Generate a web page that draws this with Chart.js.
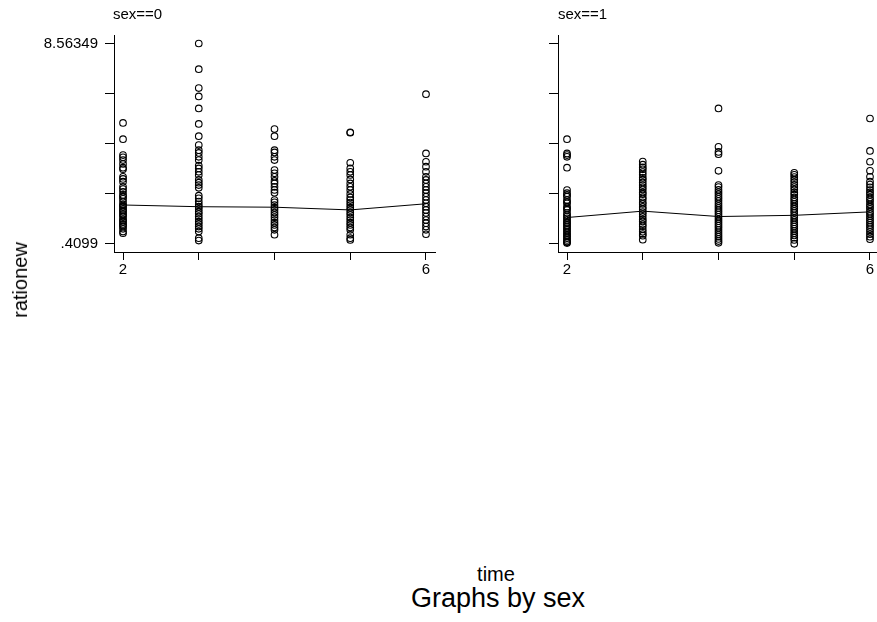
<!DOCTYPE html>
<html>
<head>
<meta charset="utf-8">
<script src="https://cdn.jsdelivr.net/npm/chart.js@4.4.1/dist/chart.umd.min.js"></script>
<style>
  html, body { margin: 0; padding: 0; background: #fff; }
  #wrap { position: relative; width: 877px; height: 622px; overflow: hidden; background: #fff; }
  canvas { position: absolute; top: 0; }
  .txt { position: absolute; font-family: "Liberation Sans", Arial, Helvetica, sans-serif; color: #000; white-space: nowrap; }
</style>
</head>
<body>
<div id="wrap">
  <canvas id="c0" width="445" height="280" style="left:0px"></canvas>
  <canvas id="c1" width="445" height="280" style="left:445px"></canvas>
  <div class="txt" id="t0" style="left:113px; top:5.6px; font-size:15px; line-height:15px;">sex==0</div>
  <div class="txt" id="t1" style="left:558px; top:5.6px; font-size:15px; line-height:15px;">sex==1</div>
  <div class="txt" id="ylab" style="left:19.8px; top:280px; font-size:20px; line-height:20px; transform: translate(-50%,-50%) rotate(-90deg);">rationew</div>
  <div class="txt" id="xlab" style="left:496px; top:564.1px; font-size:20px; line-height:20px; transform: translateX(-50%);">time</div>
  <div class="txt" id="note" style="left:498px; top:585.4px; font-size:27px; line-height:27px; transform: translateX(-50%);">Graphs by sex</div>
</div>
<script>
// ---- data ----
const times = [2, 3, 4, 5, 6];
const xTicks = [2, 3, 4, 5, 6];
const xTickLabels = ['2', '', '', '', '6'];
const yTicks = [0.4099, 2.4483, 4.4867, 6.5251, 8.56349];
const yTickLabelsLeft = ['.4099', '', '', '', '8.56349'];
const yTickLabelsRight = ['', '', '', '', ''];

// sex==0 observations by time
const sex0_t2 = [5.33,4.67,4.02,3.93,3.82,3.66,3.51,3.45,3.14,3.05,2.94,2.73,2.64,2.53,2.40,2.33,2.24,2.13,2.02,1.97,1.92,1.83,1.77,1.72,1.63,1.58,1.52,1.42,1.36,1.31,1.22,1.18,1.11,1.02,0.91,0.84];
const sex0_t3 = [8.56349,7.52,6.75,6.41,5.92,5.29,4.79,4.43,4.22,4.11,3.95,3.82,3.59,3.48,3.34,3.21,3.01,2.90,2.80,2.69,2.37,2.26,2.13,2.02,1.92,1.83,1.72,1.63,1.52,1.42,1.31,1.22,1.11,1.02,0.91,0.64,0.54];
const sex0_t4 = [5.08,4.79,4.22,4.13,3.95,3.82,3.41,3.28,3.14,2.97,2.87,2.73,2.60,2.49,2.19,2.10,1.99,1.88,1.79,1.68,1.59,1.49,1.38,1.27,1.18,1.07,0.98,0.78];
const sex0_t5 = [4.95,4.93,3.71,3.48,3.34,3.21,3.03,2.87,2.73,2.60,2.44,2.30,2.19,2.09,1.99,1.88,1.79,1.68,1.59,1.48,1.38,1.27,1.18,1.07,0.98,0.78,0.64,0.57];
const sex0_t6 = [6.50,4.09,3.75,3.55,3.34,3.14,3.01,2.87,2.73,2.60,2.47,2.33,2.19,2.06,1.92,1.79,1.66,1.52,1.38,1.25,1.11,0.98,0.80];
const sex0_mean = [1.99, 1.92, 1.90, 1.79, 2.04];

// sex==1 observations by time
const sex1_t2 = [4.67,4.09,4.02,3.95,3.51,2.60,2.47,2.40,2.33,2.19,2.12,2.06,1.92,1.85,1.79,1.66,1.58,1.52,1.45,1.38,1.30,1.25,1.18,1.11,1.04,0.98,0.91,0.84,0.77,0.71,0.64,0.57,0.50,0.47,0.44];
const sex1_t3 = [3.76,3.63,3.52,3.44,3.33,3.22,3.10,3.02,2.91,2.80,2.71,2.62,2.50,2.43,2.31,2.22,2.10,2.03,1.91,1.82,1.70,1.62,1.51,1.40,1.32,1.21,1.12,1.00,0.90,0.81,0.74,0.58];
const sex1_t4 = [5.92,4.36,4.15,4.06,3.38,2.80,2.72,2.61,2.52,2.43,2.33,2.24,2.15,2.05,1.96,1.87,1.78,1.69,1.60,1.51,1.42,1.33,1.24,1.15,1.06,0.97,0.88,0.79,0.70,0.61,0.52,0.45];
const sex1_t5 = [3.30,3.22,3.13,3.02,2.92,2.81,2.72,2.62,2.50,2.41,2.30,2.21,2.12,2.03,1.93,1.84,1.75,1.66,1.56,1.47,1.38,1.29,1.20,1.11,1.02,0.93,0.84,0.75,0.66,0.57,0.41];
const sex1_t6 = [5.51,4.19,3.75,3.38,3.14,2.94,2.82,2.71,2.60,2.50,2.41,2.30,2.21,2.12,2.01,1.92,1.83,1.72,1.63,1.54,1.45,1.36,1.27,1.18,1.09,1.00,0.90,0.80,0.70,0.60];
const sex1_mean = [1.48, 1.74, 1.52, 1.57, 1.71];

// ---- build ----
const FONT = '"Liberation Sans", Arial, Helvetica, sans-serif';
function pts(groups) {
  const out = [];
  groups.forEach((arr, i) => arr.forEach(v => out.push({ x: times[i], y: v })));
  return out;
}
function line(means) { return means.map((v, i) => ({ x: times[i], y: v })); }

function makeChart(id, groups, means, yLabels, yAxisW, padRight) {
  return new Chart(document.getElementById(id), {
    type: 'scatter',
    data: {
      datasets: [
        {
          type: 'scatter',
          data: pts(groups),
          pointStyle: 'circle',
          pointRadius: 3.3,
          pointBorderWidth: 1.1,
          borderColor: '#000',
          backgroundColor: 'rgba(0,0,0,0)',
          pointBackgroundColor: 'rgba(0,0,0,0)',
          pointBorderColor: '#000'
        },
        {
          type: 'line',
          data: line(means),
          borderColor: '#000',
          borderWidth: 1,
          pointRadius: 0,
          fill: false,
          tension: 0
        }
      ]
    },
    options: {
      responsive: false,
      animation: false,
      devicePixelRatio: 1,
      layout: { padding: { top: 35, right: padRight, left: 0, bottom: 0 } },
      plugins: { legend: { display: false }, tooltip: { enabled: false }, title: { display: false } },
      scales: {
        x: {
          type: 'linear',
          min: 1.881, max: 6.119,
          afterBuildTicks: s => { s.ticks = xTicks.map(v => ({ value: v })); },
          afterFit: s => { s.height = 28; },
          ticks: {
            callback: (v, i) => xTickLabels[i],
            autoSkip: false, maxRotation: 0, minRotation: 0,
            color: '#000', padding: 1,
            font: { family: FONT, size: 15 }
          },
          grid: { display: true, drawOnChartArea: false, drawTicks: true, tickLength: 8, color: '#000', lineWidth: 1 },
          border: { display: true, color: '#000', width: 1 }
        },
        y: {
          type: 'linear',
          min: 0.077, max: 8.909,
          afterBuildTicks: s => { s.ticks = yTicks.map(v => ({ value: v })); },
          afterFit: s => { s.width = yAxisW; },
          ticks: {
            callback: (v, i) => yLabels[i],
            autoSkip: false,
            color: '#000', padding: 7,
            font: { family: FONT, size: 15 }
          },
          grid: { display: true, drawOnChartArea: false, drawTicks: true, tickLength: 9, color: '#000', lineWidth: 1 },
          border: { display: true, color: '#000', width: 1 }
        }
      }
    }
  });
}

makeChart('c0', [sex0_t2, sex0_t3, sex0_t4, sex0_t5, sex0_t6], sex0_mean, yTickLabelsLeft, 114, 10);
makeChart('c1', [sex1_t2, sex1_t3, sex1_t4, sex1_t5, sex1_t6], sex1_mean, yTickLabelsRight, 113, 11);
</script>
</body>
</html>
